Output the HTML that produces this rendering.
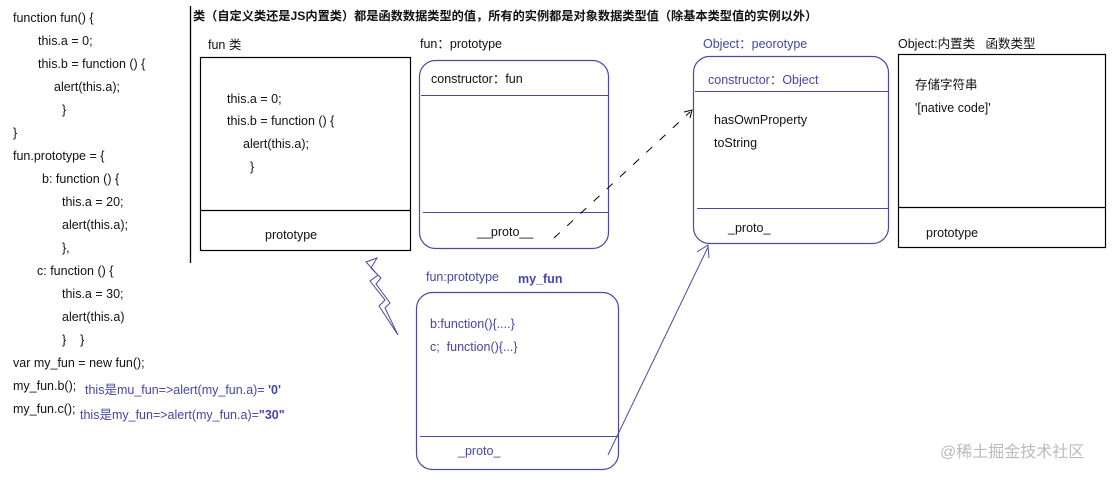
<!DOCTYPE html>
<html><head><meta charset="utf-8">
<style>
body{margin:0;width:1116px;height:479px;background:#fff;position:relative;overflow:hidden;font-family:"Liberation Sans","Noto Sans CJK SC",sans-serif;font-size:12.5px;color:#111}
.t{position:absolute;white-space:nowrap;line-height:14px}
.b{color:#4646a6}
.bold{font-weight:bold}
svg{position:absolute;left:0;top:0}
</style></head><body>
<svg width="1116" height="479">
<line x1="190.5" y1="6" x2="190.5" y2="263" stroke="#000" stroke-width="1.3"/>
<rect x="200.5" y="57.5" width="210" height="193" fill="none" stroke="#000" stroke-width="1.2"/>
<line x1="200" y1="210.5" x2="411" y2="210.5" stroke="#000" stroke-width="1.2"/>
<rect x="419.5" y="60.5" width="189" height="188" rx="16" fill="none" stroke="#4a4a9e" stroke-width="1.2"/>
<line x1="421" y1="95.5" x2="608" y2="95.5" stroke="#4a4a9e"/>
<line x1="423" y1="212.5" x2="608" y2="212.5" stroke="#4a4a9e"/>
<rect x="693.5" y="56.5" width="195" height="187" rx="16" fill="none" stroke="#4a4a9e" stroke-width="1.2"/>
<line x1="695" y1="91.5" x2="888" y2="91.5" stroke="#4a4a9e"/>
<line x1="697" y1="208.5" x2="888" y2="208.5" stroke="#4a4a9e"/>
<rect x="898.5" y="54.5" width="207" height="193" fill="none" stroke="#000" stroke-width="1.2"/>
<line x1="899" y1="207.5" x2="1106" y2="207.5" stroke="#000" stroke-width="1.2"/>
<rect x="416.5" y="292.5" width="202" height="177" rx="16" fill="none" stroke="#4a4a9e" stroke-width="1.2"/>
<line x1="420" y1="436.5" x2="618" y2="436.5" stroke="#4a4a9e"/>
<polyline points="398,335 379,306 385,300 370,281 378,275 366,262 377,258 371,268 381,278 376,284 390,303 385,308 398,335" fill="none" stroke="#4a4a9e" stroke-width="1"/>
<line x1="554" y1="238" x2="690" y2="112" stroke="#000" stroke-dasharray="8,10" stroke-width="1"/>
<polyline points="684,112 692,110 690,118" fill="none" stroke="#000" stroke-width="1"/>
<line x1="608" y1="455" x2="708" y2="247" stroke="#4a4a9e" stroke-width="1"/>
<polyline points="697,252 708,245 709,258" fill="none" stroke="#4a4a9e" stroke-width="1"/>
</svg>
<div class="t" style="left:13px;top:11px">function fun() {</div>
<div class="t" style="left:38px;top:34px">this.a = 0;</div>
<div class="t" style="left:38px;top:57px">this.b = function () {</div>
<div class="t" style="left:54px;top:80px">alert(this.a);</div>
<div class="t" style="left:62px;top:103px">}</div>
<div class="t" style="left:13px;top:126px">}</div>
<div class="t" style="left:13px;top:149px">fun.prototype = {</div>
<div class="t" style="left:42px;top:172px">b: function () {</div>
<div class="t" style="left:62px;top:195px">this.a = 20;</div>
<div class="t" style="left:62px;top:218px">alert(this.a);</div>
<div class="t" style="left:62px;top:241px">},</div>
<div class="t" style="left:37px;top:264px">c: function () {</div>
<div class="t" style="left:62px;top:287px">this.a = 30;</div>
<div class="t" style="left:62px;top:310px">alert(this.a)</div>
<div class="t" style="left:62px;top:333px">}&nbsp;&nbsp;&nbsp;&nbsp;}</div>
<div class="t" style="left:13px;top:356px">var my_fun = new fun();</div>
<div class="t" style="left:13px;top:379px">my_fun.b();</div>
<div class="t" style="left:13px;top:402px">my_fun.c();</div>
<div class="t b" style="left:85px;top:383px">this是mu_fun=&gt;alert(my_fun.a)= <b>'0'</b></div>
<div class="t b" style="left:80px;top:408px">this是my_fun=&gt;alert(my_fun.a)=<b>"30"</b></div>
<div class="t bold" style="left:193px;top:9px;font-size:12.2px">类（自定义类还是JS内置类）都是函数数据类型的值，所有的实例都是对象数据类型值（除基本类型值的实例以外）</div>
<div class="t" style="left:208px;top:38px">fun 类</div>
<div class="t" style="left:227px;top:92px">this.a = 0;</div>
<div class="t" style="left:227px;top:114px">this.b = function () {</div>
<div class="t" style="left:243px;top:137px">alert(this.a);</div>
<div class="t" style="left:250px;top:160px">}</div>
<div class="t" style="left:265px;top:228px">prototype</div>
<div class="t" style="left:420px;top:37px">fun：prototype</div>
<div class="t" style="left:431px;top:72px">constructor：fun</div>
<div class="t" style="left:477px;top:225px">__proto__</div>
<div class="t b" style="left:703px;top:37px">Object：peorotype</div>
<div class="t b" style="left:708px;top:73px">constructor：Object</div>
<div class="t" style="left:714px;top:113px">hasOwnProperty</div>
<div class="t" style="left:714px;top:136px">toString</div>
<div class="t" style="left:728px;top:221px">_proto_</div>
<div class="t" style="left:898px;top:37px">Object:内置类&nbsp;&nbsp;&nbsp;函数类型</div>
<div class="t" style="left:915px;top:78px">存储字符串</div>
<div class="t" style="left:915px;top:101px">'[native code]'</div>
<div class="t" style="left:926px;top:226px">prototype</div>
<div class="t b" style="left:426px;top:270px">fun:prototype</div>
<div class="t b bold" style="left:518px;top:272px">my_fun</div>
<div class="t b" style="left:430px;top:317px">b:function(){....}</div>
<div class="t b" style="left:430px;top:340px">c;&nbsp;&nbsp;function(){...}</div>
<div class="t b" style="left:458px;top:444px">_proto_</div>
<div class="t" style="left:940px;top:444px;font-size:16px;color:#bbb;line-height:18px">@稀土掘金技术社区</div>
</body></html>
